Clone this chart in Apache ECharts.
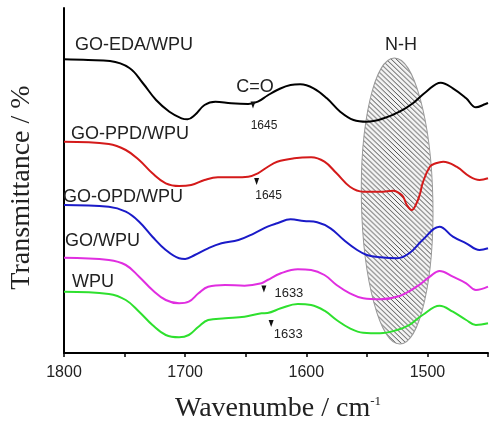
<!DOCTYPE html>
<html>
<head>
<meta charset="utf-8"/>
<title>FTIR</title>
<script src="https://cdn.jsdelivr.net/npm/echarts@6/dist/echarts.min.js"></script>
<style>html,body{margin:0;padding:0;background:#fff}</style>
</head>
<body>
<div id="main" style="width:491px;height:424px"></div>
<script>
var xTicks = [1800, 1700, 1600, 1500];
// wavenumber (cm-1), transmittance (a.u., offset curves)
var goEda = [[1800,293.7],[1780,293],[1762,292],[1746,285],[1735,270],[1724,253],[1713,241.3],[1703,234.7],[1698,233.7],[1692,238],[1684,248],[1675,251.3],[1662,249.7],[1648,249],[1640,251.3],[1632,257.5],[1624,263],[1613,268],[1605,268.7],[1594,264.7],[1583,254.7],[1572,241.3],[1561,233],[1550,231.3],[1536,234.7],[1523,241.3],[1512,249.7],[1501,261.3],[1489,270.3],[1479,264.7],[1468,254.7],[1460,245.7],[1452,249],[1450,250]];
var goPpd = [[1800,211.3],[1763,209],[1749,203],[1738,193],[1727,179.7],[1716,169.7],[1705,167],[1695,168],[1684,173],[1673,175.7],[1659,175.7],[1648,176.3],[1640,179.7],[1632,186],[1624,191.3],[1610,194.7],[1596,195.7],[1585,191.3],[1575,179.7],[1564,166.3],[1553,161.3],[1539,161.3],[1528,162.3],[1523,159.7],[1520,156.3],[1517,148],[1513,143],[1509,149.7],[1506,159.7],[1504,169.7],[1498,186.3],[1493,189.7],[1487,191.3],[1476,186.3],[1465,176.3],[1457,173],[1450,174.7]];
var goOpd = [[1800,148],[1763,146.3],[1749,141.3],[1738,131.3],[1727,116.3],[1716,103],[1705,94.7],[1700,94],[1692,98],[1681,104.7],[1670,109.7],[1656,113],[1643,119.7],[1632,126.3],[1624,129.7],[1613,133.7],[1602,132],[1591,130.7],[1580,124.7],[1569,113],[1558,103],[1550,98],[1539,95.7],[1525,94.7],[1515,99.7],[1504,113],[1490,126.3],[1479,116.3],[1468,109.7],[1457,103],[1450,104.7]];
var goWpu = [[1800,95.3],[1763,93],[1749,88],[1738,76.3],[1727,63],[1716,53],[1705,49.7],[1697,51.3],[1689,59.7],[1681,66.3],[1667,68],[1651,67.3],[1637,69.7],[1632,73],[1621,79.7],[1607,83.7],[1596,83],[1585,78],[1575,68],[1564,59.7],[1553,54.7],[1539,53.7],[1523,57],[1509,66.3],[1498,76.3],[1490,82],[1479,76.3],[1468,69.7],[1460,63],[1450,66.3]];
var wpu = [[1800,61.3],[1763,59],[1749,53],[1738,41.3],[1727,28],[1716,18],[1705,15.7],[1697,18],[1689,26.3],[1681,33],[1667,34.7],[1651,36.3],[1637,39.7],[1632,40],[1621,44.7],[1607,49],[1596,48],[1585,42.3],[1575,33],[1564,24.7],[1553,20.3],[1539,19.7],[1525,23],[1515,28],[1504,38],[1490,47.3],[1479,41.3],[1468,33],[1460,28],[1450,29.7]];
var seriesNames = ['GO-EDA/WPU', 'GO-PPD/WPU', 'GO-OPD/WPU', 'GO/WPU', 'WPU'];
var colors = ['#000000', '#d41a1a', '#1a1ac8', '#e02ee0', '#2ee02e'];
// peak markers: [wavenumber, level, text]
var peakMarks = [[1644, 248, '1645'], [1641, 171.5, '1645'], [1635, 64, '1633'], [1629, 29.5, '1633']];
// N-H region: [center wavenumber, center level, half width, half height]
var nhRegion = [[1525, 152, 29.5, 143]];

var chart = echarts.init(document.getElementById('main'));

var hatch = document.createElement('canvas');
hatch.width = 5; hatch.height = 5;
var hc = hatch.getContext('2d');
hc.fillStyle = '#f4f4f4';
hc.fillRect(0, 0, 5, 5);
hc.strokeStyle = '#4a4a4a';
hc.lineWidth = 1;
for (var k = -1; k <= 1; k++) {
    hc.beginPath(); hc.moveTo(k * 5, 0); hc.lineTo(k * 5 + 5, 5); hc.stroke();
}

var markOffsets = [[11, 21], [12, 14], [25, 4], [17, 11]];
var markSizes = [12, 12, 13, 13];

var curves = [goEda, goPpd, goOpd, goWpu, wpu];
var series = curves.map(function (d, i) {
    var s = {
        name: seriesNames[i],
        type: 'line',
        data: d,
        smooth: 0.4,
        showSymbol: false,
        z: 3,
        lineStyle: { color: colors[i], width: 2 }
    };
    if (i < 4) {
        var m = peakMarks[i];
        s.markPoint = {
            symbol: 'triangle',
            symbolRotate: 180,
            symbolSize: [5, 7],
            itemStyle: { color: '#111' },
            label: {
                show: true, position: 'inside', offset: markOffsets[i],
                formatter: m[2], color: '#222', fontSize: markSizes[i], fontFamily: 'Liberation Sans'
            },
            data: [{ coord: [m[0], m[1]] }]
        };
    }
    return s;
});

series.unshift({
    type: 'custom',
    z: 1,
    data: nhRegion,
    renderItem: function (params, api) {
        var c = api.coord([api.value(0), api.value(1)]);
        var e = api.coord([api.value(0) - api.value(2), api.value(1) + api.value(3)]);
        return {
            type: 'ellipse',
            originX: c[0], originY: c[1], rotation: 0.02,
            shape: { cx: c[0], cy: c[1], rx: Math.abs(e[0] - c[0]), ry: Math.abs(e[1] - c[1]) },
            style: { fill: { image: hatch, repeat: 'repeat' }, stroke: '#999', lineWidth: 1 }
        };
    }
});

function label(text, x, y, align) {
    return {
        type: 'text', x: x, y: y, z: 10,
        style: {
            text: text, font: '18px "Liberation Sans"', fill: '#222',
            align: align || 'left', verticalAlign: 'middle',
            textAlign: align || 'left', textVerticalAlign: 'middle'
        }
    };
}

var option = {
    animation: false,
    grid: { left: 64, right: -1, top: 8, bottom: 71 },
    xAxis: {
        type: 'value',
        inverse: true,
        min: 1450,
        max: 1800,
        interval: 50,
        axisLine: { show: true, lineStyle: { color: '#000', width: 2 } },
        axisTick: { show: true, length: 4, lineStyle: { color: '#000', width: 1.5 } },
        axisLabel: {
            margin: 12, fontSize: 16, color: '#222', fontFamily: 'Liberation Sans',
            formatter: function (v) { return xTicks.indexOf(v) >= 0 ? String(v) : ''; }
        },
        splitLine: { show: false }
    },
    yAxis: {
        type: 'value',
        min: 0,
        max: 345,
        axisLine: { show: true, onZero: false, lineStyle: { color: '#000', width: 2 } },
        axisTick: { show: false },
        axisLabel: { show: false },
        splitLine: { show: false }
    },
    graphic: [
        label('GO-EDA/WPU', 75, 45),
        label('GO-PPD/WPU', 71, 134),
        label('GO-OPD/WPU', 63, 197),
        label('GO/WPU', 65, 241.5),
        label('WPU', 72, 282),
        label('C=O', 255, 87, 'center'),
        label('N-H', 401, 45.5, 'center'),
        {
            type: 'text', x: 22, y: 187.5, rotation: Math.PI / 2,
            style: {
                text: 'Transmittance / %', font: '28px "Liberation Serif"', fill: '#222',
                align: 'center', verticalAlign: 'middle', textAlign: 'center', textVerticalAlign: 'middle'
            }
        },
        {
            type: 'text', x: 278, y: 409,
            style: {
                text: 'Wavenumbe / cm{s|-1}', font: '28px "Liberation Serif"', fill: '#222',
                align: 'center', verticalAlign: 'middle', textAlign: 'center', textVerticalAlign: 'middle',
                rich: { s: { fontSize: 13, fontFamily: 'Liberation Serif', verticalAlign: 'top', padding: [0, 0, 14, 0] } }
            }
        }
    ],
    series: series
};

chart.setOption(option);
</script>
</body>
</html>
